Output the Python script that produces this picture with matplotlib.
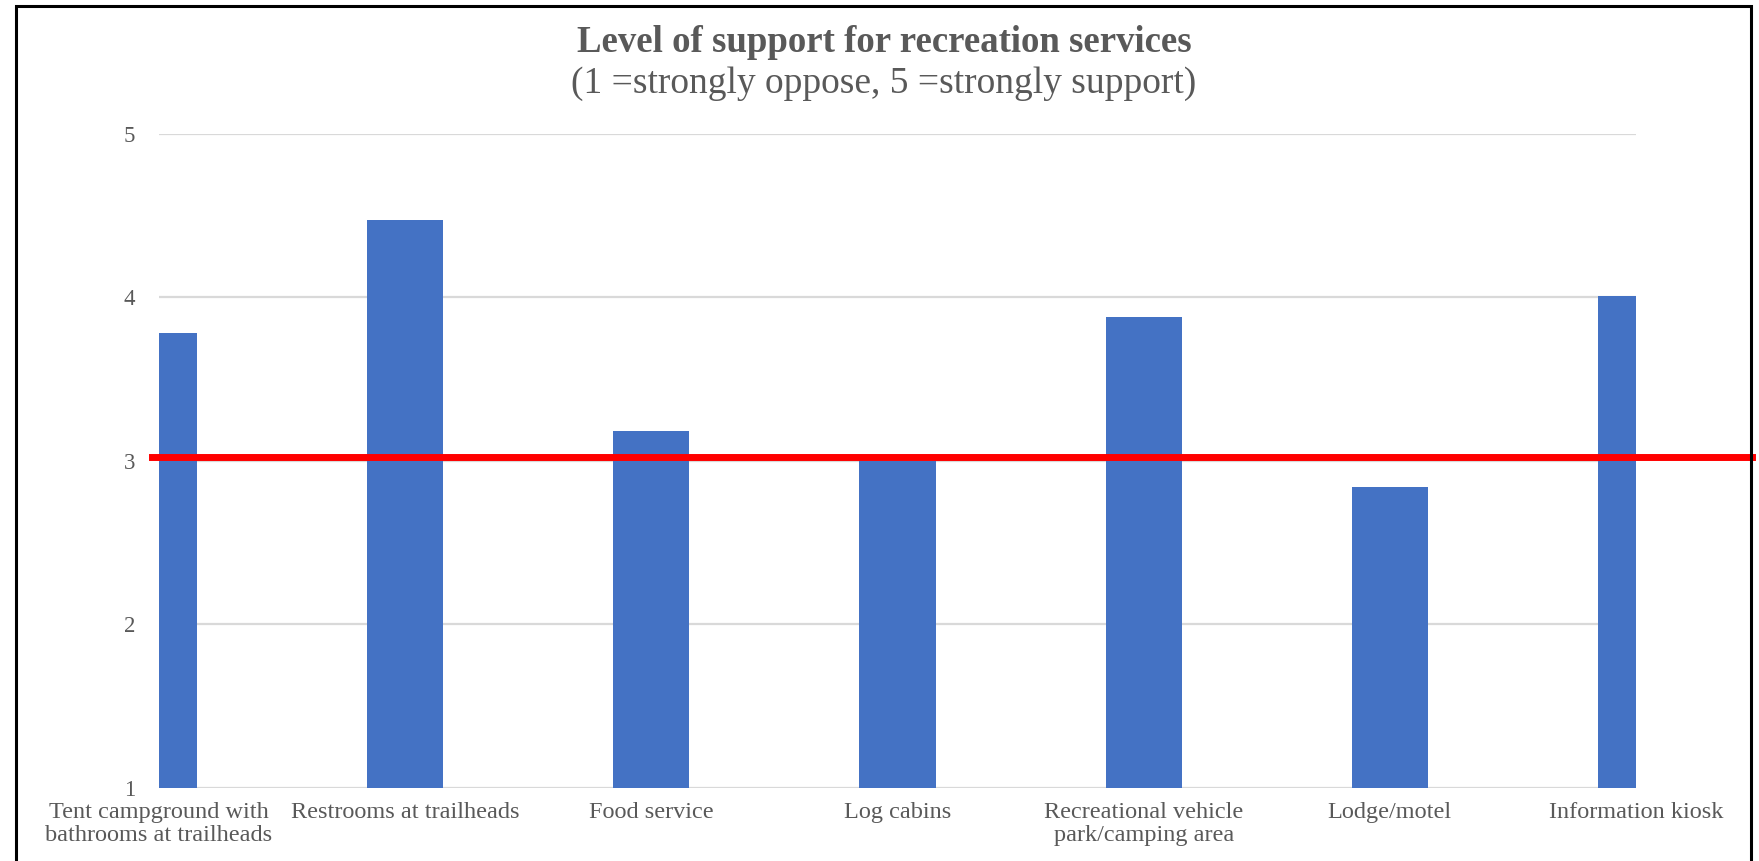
import matplotlib
matplotlib.use("Agg")
import matplotlib.pyplot as plt
from matplotlib.patches import Rectangle

# ---- data ----
services = [
    "Tent campground with\nbathrooms at trailheads",
    "Restrooms at trailheads",
    "Food service",
    "Log cabins",
    "Recreational vehicle\npark/camping area",
    "Lodge/motel",
    "Information kiosk",
]
support = [3.78, 4.47, 3.18, 3.00, 3.88, 2.84, 4.01]
neutral_level = 3.02
y_ticks = [1, 2, 3, 4, 5]

W, H, DPI = 1759, 861, 100
TEXT = "#595959"
BAR = "#4472C4"
GRID = "#D9D9D9"
SERIF = ["Liberation Serif", "DejaVu Serif"]

plt.rcParams["font.family"] = SERIF

fig = plt.figure(figsize=(W / DPI, H / DPI), dpi=DPI)
fig.patch.set_facecolor("white")

left, right = 159 / W, 1636 / W
top, bottom = 1 - 133.7 / H, 1 - 787.7 / H
ax = fig.add_axes([left, bottom, right - left, top - bottom])

x = list(range(len(services)))
ax.bar(x, support, width=0.31, color=BAR, zorder=2)

ax.set_xlim(0, len(services) - 1)
ax.set_ylim(1, 5)
ax.set_yticks(y_ticks)
ax.set_yticklabels([str(t) for t in y_ticks])
ax.set_xticks(x)
ax.set_xticklabels(services, linespacing=1.15)
ax.tick_params(axis="y", length=0, labelsize=16.5, pad=17)
ax.tick_params(axis="x", length=0, labelsize=17.5, pad=10)
for lbl in ax.get_xticklabels() + ax.get_yticklabels():
    lbl.set_color(TEXT)

for s in ax.spines.values():
    s.set_visible(False)
ax.yaxis.grid(True, color=GRID, linewidth=1.6, zorder=0)
ax.set_axisbelow(True)

# reference line at the neutral score, running out to the frame
span = right - left
ax.axhline(neutral_level, xmin=(152 / W - left) / span, xmax=(1752 / W - left) / span,
           color="#FF0000", linewidth=5.0, clip_on=False, zorder=3)

fig.text(0.5025, 1 - 43 / H, "Level of support for recreation services",
         ha="center", va="center", fontsize=26.5, fontweight="bold", color=TEXT)
fig.text(0.5025, 1 - 84 / H, "(1 =strongly oppose, 5 =strongly support)",
         ha="center", va="center", fontsize=27, color=TEXT)

# outer frame
fig.patches.append(Rectangle((16 / W, -0.05), (1751 - 16) / W, 1.05 - 6 / H,
                             transform=fig.transFigure, fill=False,
                             edgecolor="black", linewidth=2.2, zorder=10))

fig.savefig("out.png", dpi=DPI, facecolor="white")
